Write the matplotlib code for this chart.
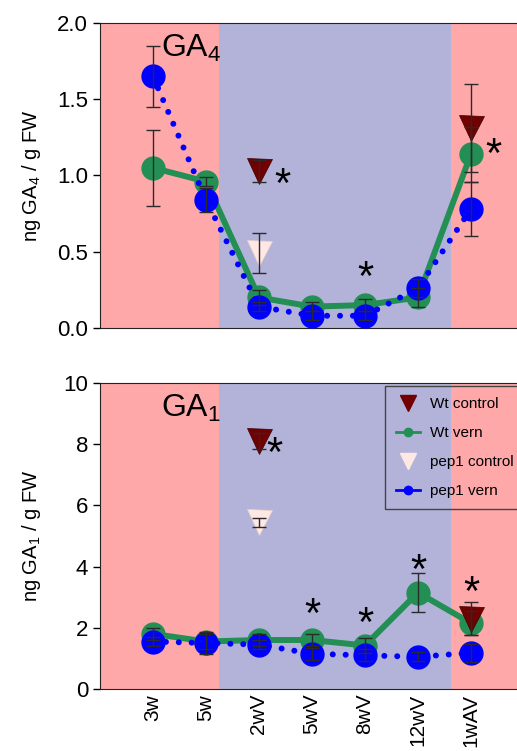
import matplotlib.pyplot as plt
import numpy as np
from matplotlib.lines import Line2D

plt.rcParams["font.family"] = ["Liberation Sans", "DejaVu Sans"]
plt.rcParams["mathtext.default"] = "regular"

stages = ["3w", "5w", "2wV", "5wV", "8wV", "12wV", "1wAV"]

# GA4 (top panel)
ga4_wt_vern = [1.05, 0.96, 0.20, 0.14, 0.15, 0.20, 1.14]
ga4_wt_vern_err = [0.25, 0.03, 0.05, 0.03, 0.04, 0.06, 0.18]
ga4_pep_vern = [1.65, 0.84, 0.14, 0.08, 0.08, 0.26, 0.78]
ga4_pep_vern_err = [0.20, 0.08, 0.03, 0.03, 0.03, 0.06, 0.18]
ga4_wt_ctrl_x = [2, 6]
ga4_wt_ctrl = [1.03, 1.31]
ga4_wt_ctrl_err = [0.07, 0.29]
ga4_pep_ctrl_x = [2]
ga4_pep_ctrl = [0.49]
ga4_pep_ctrl_err = [0.13]
ga4_stars = [(2.45, 0.93), (4, 0.32), (6.42, 1.13)]

# GA1 (bottom panel)
ga1_wt_vern = [1.80, 1.55, 1.60, 1.60, 1.42, 3.15, 2.15]
ga1_wt_vern_err = [0.20, 0.25, 0.20, 0.20, 0.25, 0.65, 0.40]
ga1_pep_vern = [1.55, 1.50, 1.45, 1.15, 1.10, 1.05, 1.18]
ga1_pep_vern_err = [0.15, 0.35, 0.15, 0.20, 0.20, 0.15, 0.30]
ga1_wt_ctrl_x = [2, 6]
ga1_wt_ctrl = [8.10, 2.30]
ga1_wt_ctrl_err = [0.25, 0.55]
ga1_pep_ctrl_x = [2]
ga1_pep_ctrl = [5.45]
ga1_pep_ctrl_err = [0.15]
ga1_stars = [(2.3, 7.65), (3, 2.38), (4, 2.1), (5, 3.82), (6, 3.1)]

pink = "#ffa8aa"
lavender = "#b3b3d9"
green = "#238f55"
blue = "#0000ff"
dark_red = "#720000"
light_pink = "#ffe8e4"
err_color = "#2a2a2a"


def draw_panel(ax, wt_vern, wt_vern_err, pep_vern, pep_vern_err,
               wt_ctrl_x, wt_ctrl, wt_ctrl_err,
               pep_ctrl_x, pep_ctrl, pep_ctrl_err, stars):
    x = np.arange(len(stages))
    ax.axvspan(-1, 1.25, color=pink, lw=0, zorder=0)
    ax.axvspan(1.25, 5.62, color=lavender, lw=0, zorder=0)
    ax.axvspan(5.62, 7, color=pink, lw=0, zorder=0)
    ax.plot(x, wt_vern, color=green, lw=4.3, marker="o", ms=16.5,
            zorder=2)
    ax.plot(x, pep_vern, color=blue, lw=4.3, ls=(0, (0.01, 2.15)),
            dash_capstyle="round", marker="o", ms=16.5, zorder=3)
    ax.plot(wt_ctrl_x, wt_ctrl, ls="none", marker="v", ms=18,
            color=dark_red, mec="#3a0000", mew=0.5, zorder=4)
    ax.plot(pep_ctrl_x, pep_ctrl, ls="none", marker="v", ms=18,
            color=light_pink, mec="#e8d0cc", mew=0.5, zorder=4)
    ekw = dict(ls="none", ecolor=err_color, elinewidth=1.0, capsize=5,
               capthick=1.0, zorder=6)
    ax.errorbar(x, wt_vern, yerr=wt_vern_err, **ekw)
    ax.errorbar(x, pep_vern, yerr=pep_vern_err, **ekw)
    ax.errorbar(wt_ctrl_x, wt_ctrl, yerr=wt_ctrl_err, **ekw)
    ax.errorbar(pep_ctrl_x, pep_ctrl, yerr=pep_ctrl_err, **ekw)
    for sx, sy in stars:
        ax.text(sx, sy, "*", fontsize=30, ha="center", va="center",
                zorder=7)
    ax.set_xlim(-1, 7)
    ax.set_xticks(x)
    ax.tick_params(axis="x", length=0)
    ax.tick_params(axis="y", labelsize=16, length=5, width=1)
    ax.spines["right"].set_visible(False)
    for s in ["top", "left", "bottom"]:
        ax.spines[s].set_color("#222222")


fig = plt.figure(figsize=(5.17, 7.51), dpi=100)
ax1 = fig.add_axes([0.1934, 0.5633, 0.820, 0.4061])
ax2 = fig.add_axes([0.1934, 0.0826, 0.820, 0.4075])

draw_panel(ax1, ga4_wt_vern, ga4_wt_vern_err, ga4_pep_vern,
           ga4_pep_vern_err, ga4_wt_ctrl_x, ga4_wt_ctrl, ga4_wt_ctrl_err,
           ga4_pep_ctrl_x, ga4_pep_ctrl, ga4_pep_ctrl_err, ga4_stars)
ax1.set_ylim(0, 2.0)
ax1.set_yticks([0, 0.5, 1.0, 1.5, 2.0])
ax1.set_yticklabels(["0.0", "0.5", "1.0", "1.5", "2.0"])
ax1.set_xticklabels([])
ax1.set_ylabel("ng GA$_4$ / g FW", fontsize=14.5)
ax1.yaxis.set_label_coords(-0.134, 0.5)
ax1.text(0.72, 1.83, "GA$_4$", fontsize=23, ha="center", va="center")

draw_panel(ax2, ga1_wt_vern, ga1_wt_vern_err, ga1_pep_vern,
           ga1_pep_vern_err, ga1_wt_ctrl_x, ga1_wt_ctrl, ga1_wt_ctrl_err,
           ga1_pep_ctrl_x, ga1_pep_ctrl, ga1_pep_ctrl_err, ga1_stars)
ax2.set_ylim(0, 10)
ax2.set_yticks([0, 2, 4, 6, 8, 10])
ax2.set_xticklabels(stages, rotation=90, fontsize=15)
ax2.set_ylabel("ng GA$_1$ / g FW", fontsize=14.5)
ax2.yaxis.set_label_coords(-0.134, 0.5)
ax2.text(0.72, 9.15, "GA$_1$", fontsize=23, ha="center", va="center")

handles = [
    Line2D([], [], ls="none", marker="v", ms=12, color=dark_red),
    Line2D([], [], color=green, lw=2, marker="o", ms=6),
    Line2D([], [], ls="none", marker="v", ms=12, color=light_pink),
    Line2D([], [], color=blue, lw=2, marker="o", ms=6),
]
labels = ["Wt control", "Wt vern", "pep1 control", "pep1 vern"]
leg = ax2.legend(handles, labels, loc="upper left",
                 bbox_to_anchor=(385 / 517, 1 - 386 / 751),
                 bbox_transform=fig.transFigure, fontsize=11,
                 labelspacing=0.97, handlelength=1.57, handletextpad=0.65,
                 borderpad=0.75, borderaxespad=0,
                 fancybox=False, framealpha=1)
leg.get_frame().set_facecolor("none")
leg.get_frame().set_edgecolor("#444444")
leg.set_zorder(8)

fig.savefig("out.png", dpi=100)
